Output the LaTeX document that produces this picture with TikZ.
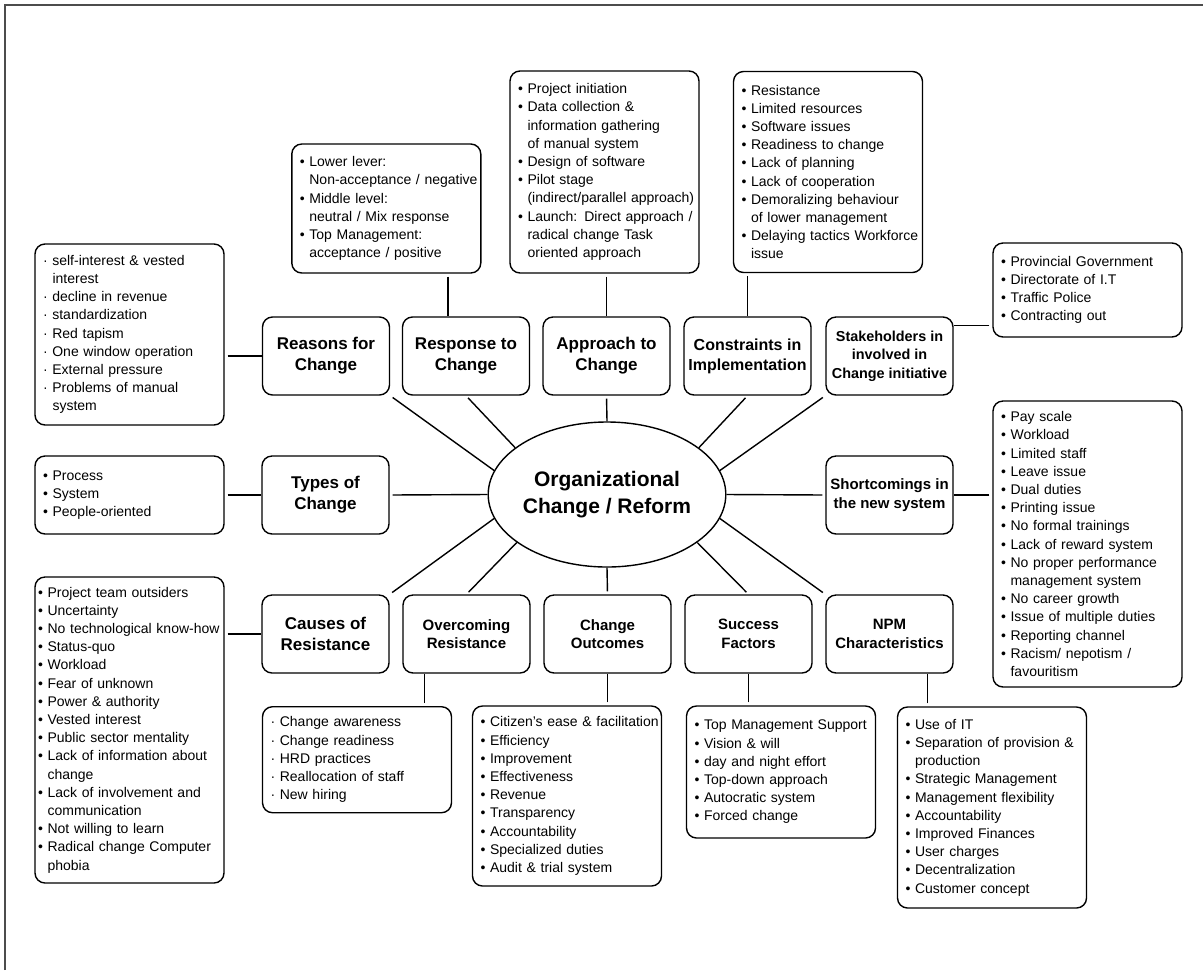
\documentclass[tikz,border=0pt]{standalone}
\usepackage{fontspec}
\setmainfont{Liberation Sans}
\usetikzlibrary{shapes}
\newcommand{\bi}[1]{\mbox{•\ #1}}
\newcommand{\di}[1]{\mbox{·\ #1}}
\newcommand{\ct}[1]{\mbox{\phantom{•\ }#1}}

\begin{document}
\begin{tikzpicture}[x=0.5pt,y=-0.5pt,
  hd/.style={draw,line width=0.7pt,rounded corners=5pt,minimum width=63.5pt,minimum height=39pt,inner xsep=2pt,align=center,font=\bfseries\fontsize{8.5}{10.5}\selectfont},
  hds/.style={hd,font=\bfseries\fontsize{7.5}{9.3}\selectfont},
  lst/.style={draw,line width=0.7pt,rounded corners=5pt,align=left,inner xsep=4pt,text width=86.5pt,font=\fontsize{7}{9.1}\selectfont},
  ln/.style={line width=0.7pt,shorten <=1.5pt}]
\useasboundingbox (0,0) rectangle (1203,970);
\draw[gray!60!black,line width=0.6pt] (5,970) -- (5,5) -- (1203,5);

\node[draw,ellipse,line width=0.7pt,minimum width=104pt,minimum height=72.5pt,inner sep=0pt,align=center,font=\bfseries\fontsize{10.5}{13.3}\selectfont] (core) at (607,494.5) {Organizational\\Change / Reform};

\node[hd] (reasons) at (326,356) {Reasons for\\Change};
\node[hd] (resp) at (466,356) {Response to\\Change};
\node[hd] (approach) at (606.5,356) {Approach to\\Change};
\node[hd,font=\bfseries\fontsize{8}{10}\selectfont] (constr) at (747.5,356) {Constraints in\\Implementation};
\node[hd,font=\bfseries\fontsize{7.2}{9.2}\selectfont] (stake) at (889.5,356) {Stakeholders in\\involved in\\Change initiative};
\node[hd] (types) at (325.5,495) {Types of\\Change};
\node[hds] (short) at (889.5,495) {Shortcomings in\\the new system};
\node[hd] (causes) at (325.5,634) {Causes of\\Resistance};
\node[hds] (over) at (466.5,634) {Overcoming\\Resistance};
\node[hds] (outc) at (607.5,634) {Change\\Outcomes};
\node[hds] (succ) at (748.5,634) {Success\\Factors};
\node[hds] (npm) at (889.5,634) {NPM\\Characteristics};

\node[lst,minimum height=90.5pt] (reasonlist) at (129.5,334.5) {\di{self-interest \& vested}\\\ct{interest}\\\di{decline in revenue}\\\di{standardization}\\\di{Red tapism}\\\di{One window operation}\\\di{External pressure}\\\di{Problems of manual}\\\ct{system}};
\node[lst,minimum height=39pt] (typelist) at (129.5,495) {\bi{Process}\\\bi{System}\\\bi{People-oriented}};
\node[lst,minimum height=153pt,inner xsep=1.5pt,text width=91.5pt] (causelist) at (129.5,730) {\bi{Project team outsiders}\\\bi{Uncertainty}\\\bi{No technological know-how}\\\bi{Status-quo}\\\bi{Workload}\\\bi{Fear of unknown}\\\bi{Power \& authority}\\\bi{Vested interest}\\\bi{Public sector mentality}\\\bi{Lack of information about}\\\ct{change}\\\bi{Lack of involvement and}\\\ct{communication}\\\bi{Not willing to learn}\\\bi{Radical change Computer}\\\ct{phobia}};
\node[lst,minimum height=64.5pt] (resplist) at (386.3,208.5) {\bi{Lower lever:}\\\ct{Non-acceptance / negative}\\\bi{Middle level:}\\\ct{neutral / Mix response}\\\bi{Top Management:}\\\ct{acceptance / positive}};
\node[lst,minimum height=101pt] (approachlist) at (604.5,172) {\bi{Project initiation}\\\bi{Data collection \&}\\\ct{information gathering}\\\ct{of manual system}\\\bi{Design of software}\\\bi{Pilot stage}\\\ct{(indirect/parallel approach)}\\\bi{Launch: Direct approach /}\\\ct{radical change Task}\\\ct{oriented approach}};
\node[lst,minimum height=100.5pt] (constrlist) at (828,172) {\bi{Resistance}\\\bi{Limited resources}\\\bi{Software issues}\\\bi{Readiness to change}\\\bi{Lack of planning}\\\bi{Lack of cooperation}\\\bi{Demoralizing behaviour}\\\ct{of lower management}\\\bi{Delaying tactics Workforce}\\\ct{issue}};
\node[lst,minimum height=47pt] (stakelist) at (1087.5,290) {\bi{Provincial Government}\\\bi{Directorate of I.T}\\\bi{Traffic Police}\\\bi{Contracting out}};
\node[lst,minimum height=143pt] (shortlist) at (1087.5,544) {\bi{Pay scale}\\\bi{Workload}\\\bi{Limited staff}\\\bi{Leave issue}\\\bi{Dual duties}\\\bi{Printing issue}\\\bi{No formal trainings}\\\bi{Lack of reward system}\\\bi{No proper performance}\\\ct{management system}\\\bi{No career growth}\\\bi{Issue of multiple duties}\\\bi{Reporting channel}\\\bi{Racism/ nepotism /}\\\ct{favouritism}};
\node[lst,minimum height=53pt] (overlist) at (357,759.7) {\di{Change awareness}\\\di{Change readiness}\\\di{HRD practices}\\\di{Reallocation of staff}\\\di{New hiring}};
\node[lst,minimum height=90pt] (outlist) at (567,796) {\bi{Citizen's ease \& facilitation}\\\bi{Efficiency}\\\bi{Improvement}\\\bi{Effectiveness}\\\bi{Revenue}\\\bi{Transparency}\\\bi{Accountability}\\\bi{Specialized duties}\\\bi{Audit \& trial system}};
\node[lst,minimum height=66pt] (succlist) at (781,772) {\bi{Top Management Support}\\\bi{Vision \& will}\\\bi{day and night effort}\\\bi{Top-down approach}\\\bi{Autocratic system}\\\bi{Forced change}};
\node[lst,minimum height=100.5pt] (npmlist) at (992,807.5) {\bi{Use of IT}\\\bi{Separation of provision \&}\\\ct{production}\\\bi{Strategic Management}\\\bi{Management flexibility}\\\bi{Accountability}\\\bi{Improved Finances}\\\bi{User charges}\\\bi{Decentralization}\\\bi{Customer concept}};

\coordinate (respjoin) at ([xshift=-9pt]resp.north);
\coordinate (stakejoin) at ([yshift=-4.5pt]stake.north east);
\coordinate (overjoin) at ([xshift=-21pt]over.south);
\coordinate (npmjoin) at ([xshift=19pt]npm.south);

\draw[ln] (reasonlist.east |- reasons.west) -- (reasons.west);
\draw[ln] (typelist.east |- types.west) -- (types.west);
\draw[ln] (causelist.east |- causes.west) -- (causes.west);
\draw[ln] (resplist.south -| respjoin) -- (respjoin);
\draw[ln] (approachlist.south -| approach.north) -- (approach.north);
\draw[ln] (constrlist.south -| constr.north) -- (constr.north);
\draw[ln] (stakelist.west |- stakejoin) -- (stakejoin);
\draw[ln] (shortlist.west |- short.east) -- (short.east);
\draw[ln] (overlist.north -| overjoin) -- (overjoin);
\draw[ln] (outlist.north -| outc.south) -- (outc.south);
\draw[ln] (succlist.north -| succ.south) -- (succ.south);
\draw[ln] (npmlist.north -| npmjoin) -- (npmjoin);

\draw[ln] (reasons.south east) -- (core.168);
\draw[ln] (resp.south) -- (core.153);
\draw[ln] (approach.south) -- (core.north);
\draw[ln] (constr.south) -- (core.27);
\draw[ln] (stake.south west) -- (core.12);
\draw[ln] (types.east) -- (core.west);
\draw[ln] (short.west) -- (core.east);
\draw[ln] (causes.north east) -- (core.192);
\draw[ln] (over.north) -- (core.208);
\draw[ln] (outc.north) -- (core.south);
\draw[ln] (succ.north) -- (core.332);
\draw[ln] (npm.north west) -- (core.348);
\end{tikzpicture}
\end{document}
